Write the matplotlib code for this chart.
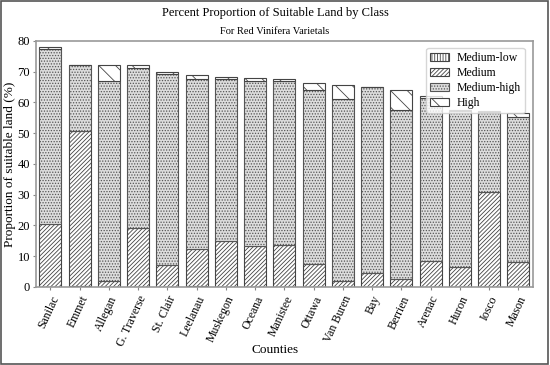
import numpy as np
import matplotlib.pyplot as plt

plt.rcParams['font.family'] = ['Liberation Serif', 'DejaVu Serif']
plt.rcParams['hatch.linewidth'] = 0.6

counties = ['Sanilac', 'Emmet', 'Allegan', 'G. Traverse', 'St. Clair', 'Leelanau',
            'Muskegon', 'Oceana', 'Manistee', 'Ottawa', 'Van Buren', 'Bay',
            'Berrien', 'Arenac', 'Huron', 'Iosco', 'Mason']
medium_low = [0.0, 0.3, 0.0, 0.0, 0.0, 0.3, 0.0, 0.0, 0.0, 0.0, 0.0, 0.0, 0.3, 0.0, 0.0, 0.0, 0.0]
medium = [20.3, 50.5, 2.0, 19.0, 7.0, 12.0, 15.0, 13.4, 13.6, 7.3, 2.0, 4.5, 2.2, 8.3, 6.5, 30.8, 8.1]
medium_high = [57.2, 21.2, 64.8, 52.3, 62.2, 55.3, 52.5, 53.4, 53.4, 56.7, 59.0, 60.5, 55.1, 53.1, 50.8, 26.2, 47.3]
high = [0.5, 0.2, 5.4, 0.7, 0.6, 1.4, 0.7, 1.0, 0.5, 2.2, 4.8, 0.0, 6.4, 0.6, 0.3, 0.2, 1.2]

x = np.arange(len(counties))
w = 0.75

fig = plt.figure(figsize=(5.5, 3.65), dpi=100)
ax = fig.add_axes([0.065, 0.214, 0.904, 0.674])

ml = np.array(medium_low)
me = np.array(medium)
mh = np.array(medium_high)
hi = np.array(high)

ax.bar(x, ml, w, color='white', edgecolor='#444444', hatch='||||||', lw=0.8, label='Medium-low')
ax.bar(x, me, w, bottom=ml, color='white', edgecolor='#444444', hatch='////////', lw=0.8, label='Medium')
ax.bar(x, mh, w, bottom=ml + me, color='#dddddd', edgecolor='#555555', hatch='......', lw=0.8, label='Medium-high')
ax.bar(x, hi, w, bottom=ml + me + mh, color='white', edgecolor='#444444', hatch='\\\\', lw=0.8, label='High')

ax.set_xlim(-0.5, len(counties) - 0.5)
ax.set_ylim(0, 80)
ax.set_yticks(np.arange(0, 81, 10))
ax.set_xticks(x)
ax.set_xticklabels(counties, rotation=65, ha='right', rotation_mode='anchor', fontsize=8.5)
ax.tick_params(axis='y', labelsize=9, length=2, pad=2, color='#888888')
ax.tick_params(axis='x', length=2, pad=3, color='#888888')
for s in ax.spines.values():
    s.set_color('#999999')
    s.set_linewidth(1.2)

ax.set_ylabel('Proportion of suitable land (%)', fontsize=9.5, labelpad=1)
fig.text(0.5, 1 - 350 / 365, 'Counties', ha='center', va='center', fontsize=9.5)
fig.text(0.5, 0.965, 'Percent Proportion of Suitable Land by Class', ha='center', va='center', fontsize=9)
fig.text(0.5, 0.915, 'For Red Vinifera Varietals', ha='center', va='center', fontsize=7.5)

leg = ax.legend(loc='upper right', fontsize=8.5, frameon=True, handlelength=1.6, handletextpad=0.6,
                borderpad=0.35, labelspacing=0.25, bbox_to_anchor=(0.995, 0.995))
leg.get_frame().set_edgecolor('#cccccc')

fig.patches.append(plt.Rectangle((0.002, 0.003), 0.995, 0.994, transform=fig.transFigure,
                                 fill=False, edgecolor='#555555', lw=1.2))

fig.savefig('out.png', dpi=100)
